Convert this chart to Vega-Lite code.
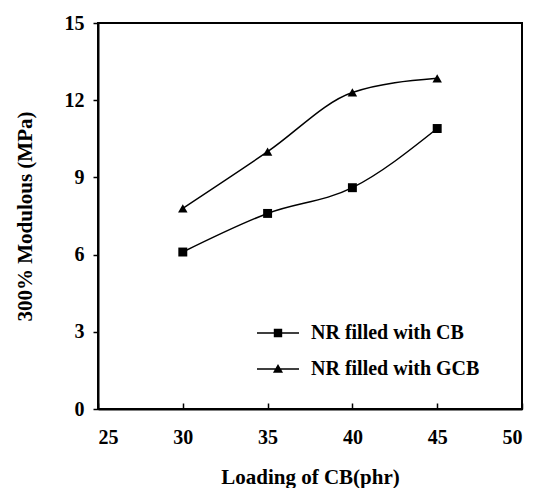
{
  "$schema": "https://vega.github.io/schema/vega-lite/v6.json",
  "width": 424,
  "height": 386,
  "autosize": "none",
  "padding": {"left": 98, "top": 23, "right": 11, "bottom": 79},
  "background": "white",
  "config": {
    "font": "Liberation Serif",
    "view": {"stroke": "black", "strokeWidth": 2},
    "axis": {
      "grid": false,
      "domainColor": "black",
      "domainWidth": 2,
      "tickColor": "black",
      "tickWidth": 1.5,
      "labelColor": "black",
      "labelFont": "Liberation Serif",
      "labelFontSize": 20,
      "labelFontWeight": "bold",
      "titleColor": "black",
      "titleFont": "Liberation Serif",
      "titleFontSize": 21,
      "titleFontWeight": "bold"
    }
  },
  "data": {
    "values": [
      {"loading": 30, "modulus": 6.1, "series": "NR filled with CB"},
      {"loading": 35, "modulus": 7.6, "series": "NR filled with CB"},
      {"loading": 40, "modulus": 8.6, "series": "NR filled with CB"},
      {"loading": 45, "modulus": 10.9, "series": "NR filled with CB"},
      {"loading": 30, "modulus": 7.8, "series": "NR filled with GCB"},
      {"loading": 35, "modulus": 10.0, "series": "NR filled with GCB"},
      {"loading": 40, "modulus": 12.3, "series": "NR filled with GCB"},
      {"loading": 45, "modulus": 12.85, "series": "NR filled with GCB"}
    ]
  },
  "encoding": {
    "x": {
      "field": "loading",
      "type": "quantitative",
      "scale": {"domain": [25, 50], "nice": false, "zero": false},
      "axis": {
        "title": "Loading of CB(phr)",
        "values": [25, 30, 35, 40, 45, 50],
        "tickSize": -6,
        "labelPadding": 24,
        "titlePadding": 19
      }
    },
    "y": {
      "field": "modulus",
      "type": "quantitative",
      "scale": {"domain": [0, 15], "nice": false},
      "axis": {
        "title": "300% Modulous (MPa)",
        "values": [0, 3, 6, 9, 12, 15],
        "tickSize": 5,
        "labelPadding": 9,
        "titlePadding": 29
      }
    }
  },
  "layer": [
    {
      "mark": {"type": "line", "interpolate": "monotone", "color": "black", "strokeWidth": 1.5},
      "encoding": {"detail": {"field": "series", "type": "nominal"}}
    },
    {
      "transform": [{"filter": "datum.series === 'NR filled with CB'"}],
      "mark": {"type": "point", "shape": "square", "filled": true, "color": "black", "opacity": 1, "size": 80}
    },
    {
      "transform": [{"filter": "datum.series === 'NR filled with GCB'"}],
      "mark": {"type": "point", "shape": "triangle-up", "filled": true, "color": "black", "opacity": 1, "size": 90}
    },
    {
      "transform": [{"filter": "datum.loading < 0"}],
      "mark": {"type": "point", "filled": true, "color": "black", "opacity": 1},
      "encoding": {
        "shape": {
          "field": "series",
          "type": "nominal",
          "scale": {
            "domain": ["NR filled with CB", "NR filled with GCB"],
            "range": [
              "M-1,-0.036H1V0.036H-1ZM-0.2,-0.2H0.2V0.2H-0.2Z",
              "M-1,-0.036H1V0.036H-1ZM0,-0.24L0.24,0.18H-0.24Z"
            ]
          },
          "legend": {
            "title": null,
            "orient": "none",
            "legendX": 158,
            "legendY": 288,
            "labelFont": "Liberation Serif",
            "labelFontSize": 20,
            "labelFontWeight": "bold",
            "labelColor": "black",
            "labelLimit": 400,
            "labelOffset": 11,
            "symbolSize": 1764,
            "symbolFillColor": "black",
            "symbolOpacity": 1,
            "rowPadding": 4
          }
        }
      }
    }
  ]
}
